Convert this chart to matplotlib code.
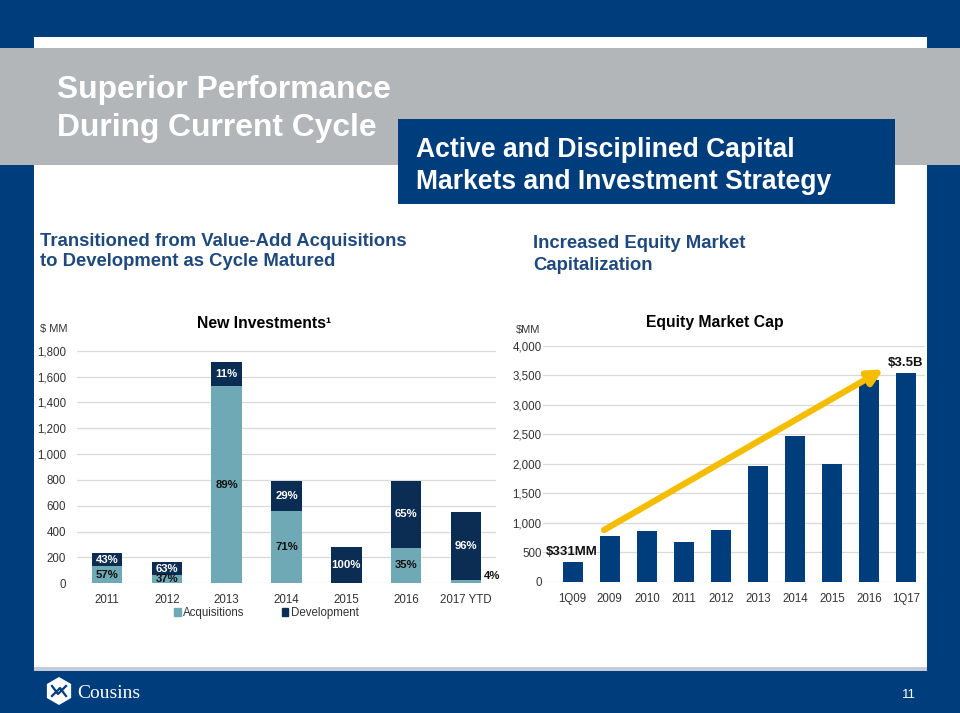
import matplotlib.pyplot as plt
from matplotlib.patches import Rectangle, RegularPolygon, Patch
from matplotlib.ticker import FuncFormatter, MultipleLocator
import numpy as np

plt.rcParams['font.family'] = ['Liberation Sans', 'DejaVu Sans']

# ---- data ----
inv_years = ['2011', '2012', '2013', '2014', '2015', '2016', '2017 YTD']
acquisitions = [133, 61, 1524, 562, 0, 277, 22]
development = [101, 104, 189, 230, 281, 515, 530]
acq_pct = ['57%', '37%', '89%', '71%', '', '35%', '4%']
dev_pct = ['43%', '63%', '11%', '29%', '100%', '65%', '96%']

cap_periods = ['1Q09', '2009', '2010', '2011', '2012', '2013', '2014', '2015', '2016', '1Q17']
market_cap = [331, 775, 864, 672, 876, 1960, 2469, 1994, 3418, 3542]

NAVY = '#003D7D'
GRAY_BAND = '#B3B6B9'
TEAL = '#6EA9B5'
DARK = '#0C2D53'
SUB_BLUE = '#1F497D'
GOLD = '#F5BD00'
GRID = '#D9D9D9'
TICK = '#333333'

W, H = 960, 713
fig = plt.figure(figsize=(W / 100, H / 100), dpi=100)
fig.patch.set_facecolor(NAVY)


def rect(x0, y0, x1, y1):
    # pixel box (top-left origin) -> figure fraction rect
    return [x0 / W, 1 - y1 / H, (x1 - x0) / W, (y1 - y0) / H]


# background layer in pixel coords
bg = fig.add_axes([0, 0, 1, 1])
bg.set_xlim(0, W)
bg.set_ylim(H, 0)
bg.axis('off')
bg.add_patch(Rectangle((34, 37), 893, 631, color='white', lw=0))
bg.add_patch(Rectangle((0, 48), W, 117, color=GRAY_BAND, lw=0))
bg.add_patch(Rectangle((398, 119), 497, 85, color=NAVY, lw=0))
bg.add_patch(Rectangle((34, 667), 893, 4, color='#C3CCD8', lw=0))

bg.text(57, 90, 'Superior Performance', color='white', fontsize=22.9, fontweight='bold', va='center')
bg.text(57, 128, 'During Current Cycle', color='white', fontsize=22.9, fontweight='bold', va='center')
bg.text(416, 150, 'Active and Disciplined Capital', color='white', fontsize=19.1, fontweight='bold', va='center')
bg.text(416, 182, 'Markets and Investment Strategy', color='white', fontsize=19.1, fontweight='bold', va='center')

bg.text(40, 241, 'Transitioned from Value-Add Acquisitions', color=SUB_BLUE, fontsize=13.3, fontweight='bold', va='center')
bg.text(40, 262, 'to Development as Cycle Matured', color=SUB_BLUE, fontsize=13.3, fontweight='bold', va='center')
bg.text(533, 243, 'Increased Equity Market', color=SUB_BLUE, fontsize=13.3, fontweight='bold', va='center')
bg.text(533, 265, 'Capitalization', color=SUB_BLUE, fontsize=13.3, fontweight='bold', va='center')

bg.text(40, 329, '$ MM', color=TICK, fontsize=8, va='center')
bg.text(264, 323, 'New Investments\u00b9', color='black', fontsize=11.3, fontweight='bold', va='center', ha='center')
bg.text(516, 330, '$MM', color=TICK, fontsize=8, va='center')
bg.text(715, 323, 'Equity Market Cap', color='black', fontsize=11.3, fontweight='bold', va='center', ha='center')

# footer: logo + page number
bg.add_patch(RegularPolygon((59, 691), 6, radius=14, orientation=0, color='white', lw=0))
bg.plot([52, 58, 66], [686, 694, 686], color=NAVY, lw=1.6)
bg.plot([52, 60, 66], [696, 688, 696], color=NAVY, lw=1.6)
bg.text(77, 693, 'Cousins', color='white', fontsize=14, family=['Liberation Serif', 'DejaVu Serif'], va='center')
bg.text(902, 695, '11', color='white', fontsize=9.5, va='center')

# ---- left chart: New Investments ----
ax1 = fig.add_axes(rect(77, 350.7, 496, 583.3))
x1 = np.arange(len(inv_years))
ax1.bar(x1, acquisitions, width=0.51, color=TEAL, zorder=2, label='Acquisitions')
ax1.bar(x1, development, width=0.51, bottom=acquisitions, color=DARK, zorder=2, label='Development')
for i in range(len(inv_years)):
    if acq_pct[i]:
        if i == len(inv_years) - 1:
            ax1.text(i + 0.44, 59, acq_pct[i], ha='center', va='center', fontsize=8.2,
                     fontweight='bold', color='#111111', zorder=3)
        else:
            ax1.text(i, acquisitions[i] / 2, acq_pct[i], ha='center', va='center', fontsize=8.2,
                     fontweight='bold', color='#111111', zorder=3, clip_on=True)
    ax1.text(i, acquisitions[i] + development[i] / 2, dev_pct[i], ha='center', va='center',
             fontsize=8.2, fontweight='bold', color='white', zorder=3)
ax1.set_xlim(-0.5, 6.5)
ax1.set_ylim(0, 1800)
ax1.yaxis.set_major_locator(MultipleLocator(200))
ax1.yaxis.set_major_formatter(FuncFormatter(lambda v, p: f'{v:,.0f}'))
ax1.set_xticks(x1)
ax1.set_xticklabels(inv_years)
ax1.tick_params(axis='both', length=0, labelsize=8.3, labelcolor=TICK)
ax1.tick_params(axis='y', pad=8)
ax1.tick_params(axis='x', pad=8)
ax1.grid(axis='y', color=GRID, lw=0.9, zorder=0)
for s in ax1.spines.values():
    s.set_visible(False)
ax1.set_facecolor('white')
handles = [Patch(color=TEAL), Patch(color=DARK)]
ax1.legend(handles, ['Acquisitions', 'Development'], ncol=2, loc='center',
           bbox_to_anchor=(0.452, -0.128), frameon=False, fontsize=8.3,
           handlelength=0.6, handleheight=0.6, handletextpad=0.2, columnspacing=3.2,
           labelcolor=TICK)

# ---- right chart: Equity Market Cap ----
ax2 = fig.add_axes(rect(543, 345.7, 925, 581.7))
x2 = np.arange(len(cap_periods))
ax2.bar(x2, market_cap, width=0.54, color=NAVY, zorder=2)
ax2.set_xlim(-0.8, 9.5)
ax2.set_ylim(0, 4000)
ax2.yaxis.set_major_locator(MultipleLocator(500))
ax2.yaxis.set_major_formatter(FuncFormatter(lambda v, p: f'{v:,.0f}'))
ax2.set_xticks(x2)
ax2.set_xticklabels(cap_periods)
ax2.tick_params(axis='both', length=0, labelsize=8.3, labelcolor=TICK)
ax2.tick_params(axis='y', pad=1)
ax2.tick_params(axis='x', pad=8)
ax2.grid(axis='y', color=GRID, lw=0.9, zorder=0)
for s in ax2.spines.values():
    s.set_visible(False)
ax2.annotate('', xy=(8.38, 3600), xytext=(0.845, 876),
             arrowprops=dict(arrowstyle='-|>', color=GOLD, lw=4.5, mutation_scale=22,
                             shrinkA=0, shrinkB=0), zorder=4)
ax2.text(-0.72, 500, '$331MM', fontsize=9.5, fontweight='bold', color='#111111', va='center', zorder=5)
ax2.text(8.49, 3707, '$3.5B', fontsize=9.5, fontweight='bold', color='#111111', va='center', zorder=5)

fig.savefig('out.png', dpi=100, facecolor=NAVY)
